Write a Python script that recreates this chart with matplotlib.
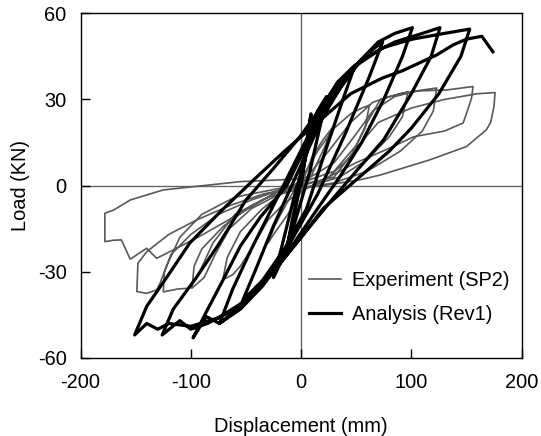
import matplotlib
matplotlib.use("Agg")
import matplotlib.pyplot as plt

# Experiment (SP2) - gray hysteresis path, (displacement mm, load kN)
exp_disp = [0, 10, 20, 28, 22, 10, 0, -12, -25, -30, -24, -10, 0,
            15, 30, 45, 55, 62, 58, 45, 25, 5, -15, -30, -45, -55, -62, -71, -67, -55, -35, -15, 5,
            25, 45, 65, 80, 97, 92, 80, 60, 35, 10, -20, -45, -65, -78, -88, -99,
            -97, -90, -70, -45, -20, 0,
            30, 50, 65, 85, 105, 123, 120, 110, 90, 60, 30, 0, -30, -60, -80, -92, -101, -112, -125,
            -124, -118, -100, -75, -45, -15, 0,
            30, 50, 60, 72, 90, 108, 132, 156, 154.6, 150, 147, 130, 102, 80, 50, 20, -20, -60, -90,
            -110, -122, -128, -131, -140, -149,
            -148, -140, -120, -95, -65, -35, 0,
            30, 50, 70, 100, 130, 160, 176, 175, 172, 168, 150, 117, 72, 53, 20, -19, -55, -95, -131,
            -140, -155, -163, -170, -178, -178, -170, -155, -125, -55, -19, 0]
exp_load = [0, 10, 16, 20, 14, 4, -2, -10, -17, -20, -14, -4, 2,
            12, 20, 25, 27, 28, 20, 10, 3, -1, -6, -12, -22, -28, -31, -32.8, -25, -16, -8, -2, 3,
            12, 22, 29, 31, 32.7, 24, 17, 9, 3, 0, -3, -8, -15, -24, -32, -35.7,
            -28, -22, -14, -7, -2, 1,
            8, 18, 26, 31, 33, 34, 26, 19, 12, 5, 1, -1, -4, -10, -20, -30, -35.7, -36, -37,
            -30, -24, -17, -10, -5, -1, 1,
            5, 14, 22, 30, 32, 33, 33.3, 34.5, 30.4, 25, 21.8, 19, 17, 13, 8, 2, -1, -4, -10,
            -18, -28, -34, -36.3, -37.5, -36.9,
            -27, -23, -17, -12, -7, -3, 0,
            3, 13, 22, 27, 30, 32, 32.4, 27.5, 22, 19.4, 13.6, 9, 3.7, 2, 0, -1.5, -9.6, -18.3, -25.3,
            -21.8, -25.6, -18.9, -19, -19.5, -9.6, -8.5, -5, -1.5, 1.4, 2, 2.5]

# Analysis (Rev1) - black hysteresis path
ana_disp = [0, 4, 9, 5, 0, -6, -12, -8, 0, 8, 15, 23, 18, 8, -5, -15, -25, -18, -5, 8, 20, 33, 49,
            38, 22, 5, -15, -35, -53, -42, -25, -5, 20, 45, 60, 74, 62, 40, 15, -10, -35, -55, -74,
            -62, -45, -20, 10, 40, 70, 85, 101, 92, 75, 55, 35, 15, -10, -35, -55, -74, -86, -98,
            -86, -71, -55, -37, -13, 20, 55, 85, 110, 126, 118, 100, 75, 50, 30, 0, -30, -60, -85,
            -100, -110, -126,
            -116, -95, -74, -50, -25, -1, 26, 47, 74, 101, 130, 153,
            145, 125, 100, 80, 47, 20, 0, -25, -50, -75, -100, -120, -130, -140, -151,
            -140, -122, -101, -73, -43, -15, 15, 45, 74, 92, 123, 138, 150, 164, 174]
ana_load = [0, 10, 25, 15, 2, -10, -20, -12, 2, 18, 26, 31, 22, 5, -12, -24, -32, -22, -2, 15, 28, 36, 42,
            30, 12, -8, -22, -33, -40, -30, -14, 3, 24, 40, 46, 50, 38, 18, -3, -20, -34, -42, -48,
            -36, -22, -3, 20, 38, 50, 53, 55, 45, 30, 15, 3, -8, -22, -35, -43, -48, -45.6, -53,
            -44, -33, -21, -11, 0, 26, 44, 50, 53, 55, 45, 32, 16, 5, -4, -18, -32, -43, -48,
            -50, -47, -52,
            -43, -32, -20, -5, 6, 17, 31.5, 41, 48, 51, 53, 54.5,
            45, 32, 20, 12, 1, -8, -18, -30, -40, -46, -49, -48, -50, -48, -52,
            -42, -32, -20, -9, 2, 12, 22, 32, 37.5, 40, 45.5, 49, 51, 52, 46.6]

x_ticks = [-200, -100, 0, 100, 200]
y_ticks = [-60, -30, 0, 30, 60]

plt.rcParams['font.family'] = ['Liberation Sans', 'DejaVu Sans']
plt.rcParams['axes.unicode_minus'] = False
fig = plt.figure(figsize=(5.41, 4.36), dpi=100)
ax = fig.add_axes([0.149, 0.179, 0.815, 0.7905])

ax.axhline(0, color='#666666', linewidth=1.0, zorder=1)
ax.axvline(0, color='#666666', linewidth=1.0, zorder=1)

ax.plot(exp_disp, exp_load, color='#595959', linewidth=1.2, label='Experiment (SP2)', zorder=2)
ax.plot(ana_disp, ana_load, color='black', linewidth=2.3, label='Analysis (Rev1)', zorder=3)

ax.set_xlim(-200, 200)
ax.set_ylim(-60, 60)
ax.set_xticks(x_ticks)
ax.set_yticks(y_ticks)
ax.tick_params(direction='in', length=6.5, width=1, labelsize=14.4)
ax.tick_params(axis='x', pad=11)
ax.tick_params(axis='y', pad=10)
ax.tick_params(top=False, right=False)
for s in ax.spines.values():
    s.set_linewidth(1.0)

ax.set_xlabel('Displacement (mm)', fontsize=14.4, labelpad=18)
ax.set_ylabel('Load (KN)', fontsize=14.4, labelpad=6)

ax.legend(loc='lower right', bbox_to_anchor=(1.0, 0.065), frameon=False, fontsize=14.4,
          handlelength=1.6, handletextpad=0.55, labelspacing=0.75, borderaxespad=0.2)

fig.savefig('out.png', dpi=100)
